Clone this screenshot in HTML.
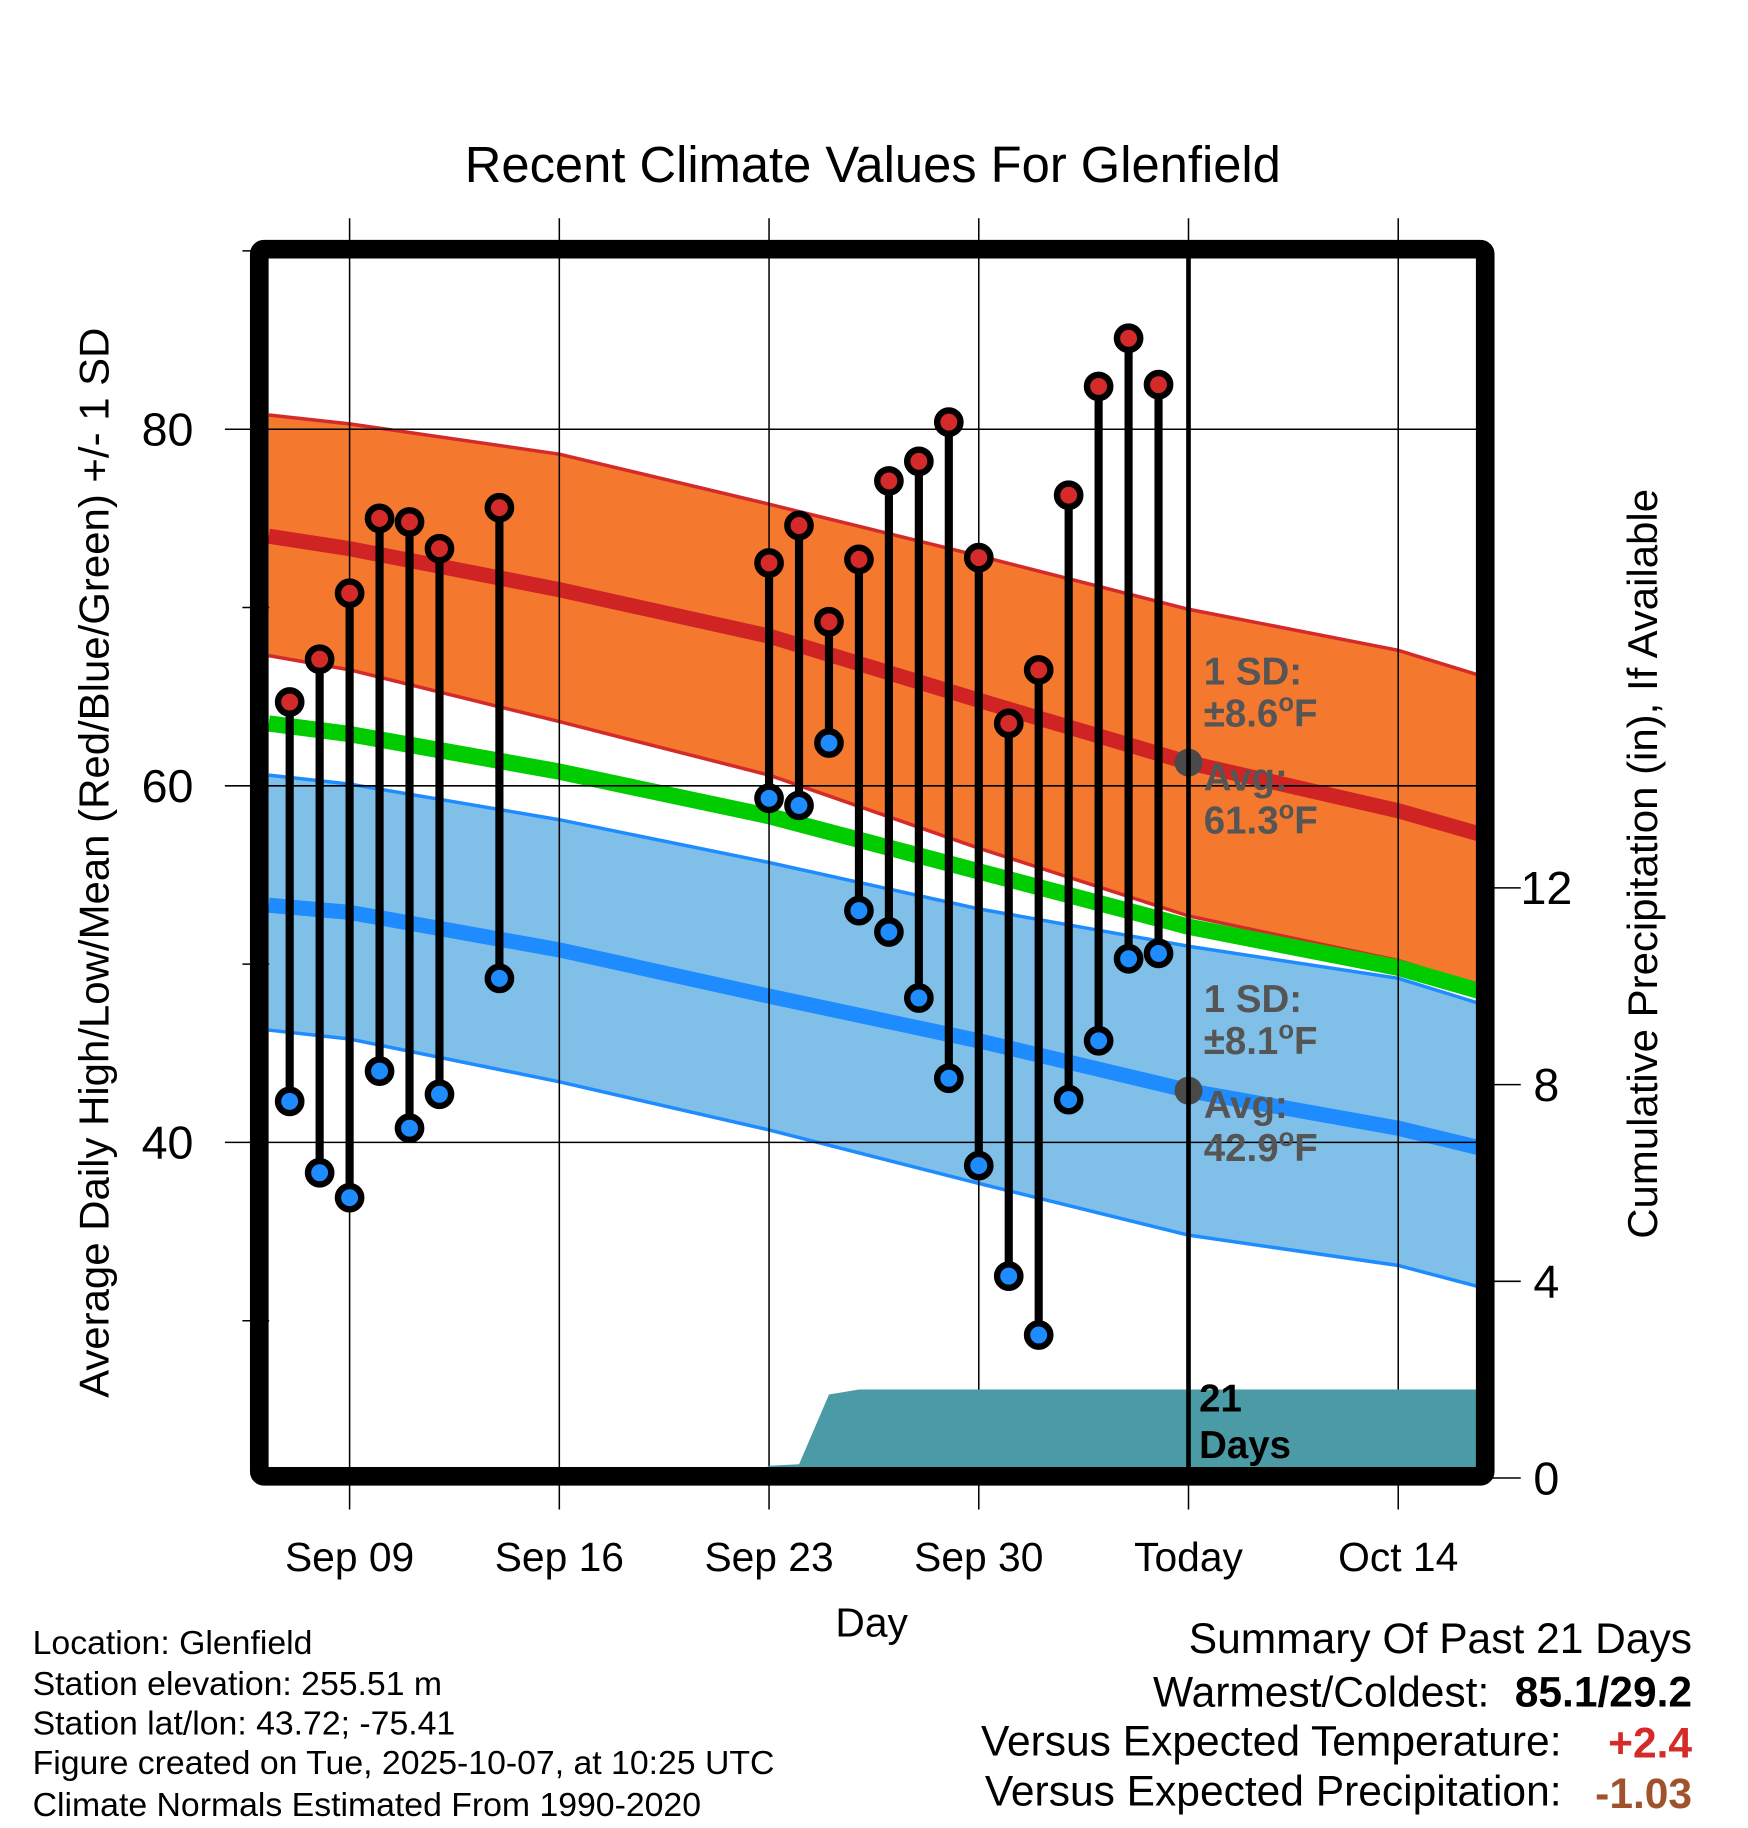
<!DOCTYPE html>
<html><head><meta charset="utf-8"><style>
html,body{margin:0;padding:0;background:#fff}
svg{display:block;font-family:"Liberation Sans",Arial,sans-serif}
</style></head><body>
<svg id="chart" width="1748" height="1828" viewBox="0 0 1500 1568" xmlns="http://www.w3.org/2000/svg">
<rect x="0" y="0" width="1500" height="1568" fill="#fff"/>
<g id="bands"></g><g id="grid"></g><g id="precip"></g><g id="marks"></g><g id="labels"></g>
<text x="749" y="156" font-size="43.5" text-anchor="middle">Recent Climate Values For Glenfield</text>
<text x="748" y="1404" font-size="35" text-anchor="middle">Day</text>
<text transform="translate(93,740) rotate(-90)" font-size="36" text-anchor="middle">Average Daily High/Low/Mean (Red/Blue/Green) +/- 1 SD</text>
<text transform="translate(1422,741) rotate(-90)" font-size="36" text-anchor="middle">Cumulative Precipitation (in), If Available</text>
<g font-size="29">
<text x="28" y="1419">Location: Glenfield</text>
<text x="28" y="1454">Station elevation: 255.51 m</text>
<text x="28" y="1488">Station lat/lon: 43.72; -75.41</text>
<text x="28" y="1522">Figure created on Tue, 2025-10-07, at 10:25 UTC</text>
<text x="28" y="1558">Climate Normals Estimated From 1990-2020</text>
</g>
<g font-size="36.5" text-anchor="end">
<text x="1452" y="1418">Summary Of Past 21 Days</text>
<text x="1278" y="1464">Warmest/Coldest:</text>
<text x="1452" y="1464" font-weight="bold">85.1/29.2</text>
<text x="1340" y="1506">Versus Expected Temperature:</text>
<text x="1452" y="1508" font-weight="bold" fill="#d42a2a">+2.4</text>
<text x="1340" y="1549">Versus Expected Precipitation:</text>
<text x="1452" y="1551" font-weight="bold" fill="#a0522d">-1.03</text>
</g>
</svg>
<script>
// normals sampled at day offsets from Sep 09
const normDays = [-2.7, 0, 7, 14, 21, 28, 35, 37.7];
const hiUpper = [80.8, 80.3, 78.6, 75.8, 72.9, 69.9, 67.6, 66.2];
const hiMean  = [74.0, 73.3, 71.0, 68.4, 64.8, 61.3, 58.6, 57.3];
const hiLower = [67.3, 66.5, 63.6, 60.6, 56.5, 52.7, 50.2, 48.8];
const avgMean = [63.5, 62.9, 60.8, 58.3, 55.2, 52.1, 49.8, 48.5];
const loUpper = [60.6, 60.1, 58.1, 55.7, 53.1, 51.0, 49.2, 47.8];
const loMean  = [53.3, 52.9, 50.8, 48.2, 45.7, 42.9, 40.8, 39.7];
const loLower = [46.3, 45.8, 43.4, 40.7, 37.7, 34.8, 33.1, 31.9];
// observations
const obsDays = [-2,-1,0,1,2,3,5,14,15,16,17,18,19,20,21,22,23,24,25,26,27];
const highs = [64.7,67.1,70.8,75.0,74.8,73.3,75.6,72.5,74.6,69.2,72.7,77.1,78.2,80.4,72.8,63.5,66.5,76.3,82.4,85.1,82.5];
const lows  = [42.3,38.3,36.9,44.0,40.8,42.7,49.2,59.3,58.9,62.4,53.0,51.8,48.1,43.6,38.7,32.5,29.2,42.4,45.7,50.3,50.6];
// cumulative precipitation
const precipDays = [13.8,14,15,16,17,27,37.7];
const precipVals = [0.18,0.25,0.28,1.70,1.80,1.80,1.80];
// ticks
const xTickDays = [0,7,14,21,28,35];
const xTickLabels = ["Sep 09","Sep 16","Sep 23","Sep 30","Today","Oct 14"];
const yTicks = [80,60,40];
const yMinor = [90,70,50,30];
const y2Ticks = [0,4,8,12];

const NS="http://www.w3.org/2000/svg";
const L=231,R=1269,T=221,B=1260;
const xS=d=>300+25.71*d;
const yS=v=>368+(80-v)*15.3;
const y2S=p=>1268-p*42.2;
function mk(tag,attrs,parent,name,inter){const e=document.createElementNS(NS,tag);for(const k in attrs)e.setAttribute(k,attrs[k]);


parent.appendChild(e);return e;}
const gB=document.getElementById('bands'),gG=document.getElementById('grid'),gP=document.getElementById('precip'),gM=document.getElementById('marks'),gL=document.getElementById('labels');
const line=arr=>normDays.map((d,i)=>xS(d).toFixed(1)+','+yS(arr[i]).toFixed(1));
function band(up,lo,fill,edge,name){
 const pts=line(up).concat(line(lo).reverse()).join(' ');
 mk('polygon',{points:pts,fill:fill},gB,name,false);
 mk('polyline',{points:line(up).join(' '),fill:'none',stroke:edge,'stroke-width':3},gB,name+'-upper',false);
 mk('polyline',{points:line(lo).join(' '),fill:'none',stroke:edge,'stroke-width':3},gB,name+'-lower',false);
}
band(hiUpper,hiLower,'#f4782e','#d42a2a','high-sd-band');
band(loUpper,loLower,'#80c0e8','#1e8cff','low-sd-band');
mk('polyline',{points:line(hiMean).join(' '),fill:'none',stroke:'#d02424','stroke-width':13},gB,'high-mean-line',false);
mk('polyline',{points:line(avgMean).join(' '),fill:'none',stroke:'#00cc00','stroke-width':14},gB,'mean-line',false);
mk('polyline',{points:line(loMean).join(' '),fill:'none',stroke:'#1e8cff','stroke-width':13},gB,'low-mean-line',false);
// precip
let pp=precipDays.map((d,i)=>xS(d).toFixed(1)+','+y2S(precipVals[i]).toFixed(1));
pp.push(xS(precipDays[precipDays.length-1]).toFixed(1)+','+B);pp.push(xS(precipDays[0]).toFixed(1)+','+B);
mk('polygon',{points:pp.join(' '),fill:'#4a9ba5'},gP,'precip-area',false);
// grid
xTickDays.forEach((d,i)=>{const x=xS(d);
 mk('line',{x1:x,y1:187,x2:x,y2:1295,stroke:'#000','stroke-width':1.3},gG,'x-gridline',false);
 const t=mk('text',{x:x,y:1348,'font-size':35,'text-anchor':'middle'},gL,'x-tick-label',false);t.textContent=xTickLabels[i];});
yTicks.forEach(v=>{const y=yS(v);
 mk('line',{x1:193,y1:y,x2:R,y2:y,stroke:'#000','stroke-width':1.3},gG,'y-gridline',false);
 const t=mk('text',{x:166,y:y+14,'font-size':40,'text-anchor':'end'},gL,'y-tick-label',false);t.textContent=v;});
yMinor.forEach(v=>{const y=yS(v);mk('line',{x1:208,y1:y,x2:L,y2:y,stroke:'#000','stroke-width':1.3},gG,'y-minor-tick',false);});
y2Ticks.forEach(p=>{const y=y2S(p);
 mk('line',{x1:1269,y1:y,x2:1305,y2:y,stroke:'#000','stroke-width':1.3},gG,'y2-tick',false);
 const t=mk('text',{x:1327,y:y+14,'font-size':40,'text-anchor':'middle'},gL,'y2-tick-label',false);t.textContent=p;});
// avg dots & today line
mk('circle',{cx:xS(28),cy:yS(hiMean[5]),r:12,fill:'#4a4a4a'},gM,'high-avg-dot',false);
mk('circle',{cx:xS(28),cy:yS(loMean[5]),r:12,fill:'#4a4a4a'},gM,'low-avg-dot',false);
mk('line',{x1:xS(28),y1:T,x2:xS(28),y2:B,stroke:'#000','stroke-width':4},gM,'today-line',false);
// observations
obsDays.forEach((d,i)=>{const x=xS(d);
 mk('line',{x1:x,y1:yS(highs[i]),x2:x,y2:yS(lows[i]),stroke:'#000','stroke-width':7},gM,'day-range-stem',false);
 mk('circle',{cx:x,cy:yS(highs[i]),r:10,fill:'#d42a2a',stroke:'#000','stroke-width':5.5},gM,'high-point',true);
 mk('circle',{cx:x,cy:yS(lows[i]),r:10,fill:'#1e8cff',stroke:'#000','stroke-width':5.5},gM,'low-point',true);
});
// annotations
function ann(txt,x,y,name,fill){const t=mk('text',{x:x,y:y,'font-size':33,'font-weight':'bold',fill:fill},gL,name,false);t.innerHTML=txt;}
const deg='<tspan dy="-13" font-size="22">o</tspan><tspan dy="13">F</tspan>';
ann('1 SD:',1033,587,'high-sd-label','#555');
ann('±8.6'+deg,1033,623,'high-sd-value','#555');
ann('Avg:',1033,678,'high-avg-label','#555');
ann('61.3'+deg,1033,715,'high-avg-value','#555');
ann('1 SD:',1033,868,'low-sd-label','#555');
ann('±8.1'+deg,1033,904,'low-sd-value','#555');
ann('Avg:',1033,959,'low-avg-label','#555');
ann('42.9'+deg,1033,996,'low-avg-value','#555');
ann('21',1029,1211,'days-count','#000');
ann('Days',1029,1251,'days-label','#000');
// frame
mk('rect',{x:222.5,y:213.5,width:1052,height:1053,fill:'none',stroke:'#000','stroke-width':16,rx:4},gM,'plot-frame',false);
</script>
</body></html>
